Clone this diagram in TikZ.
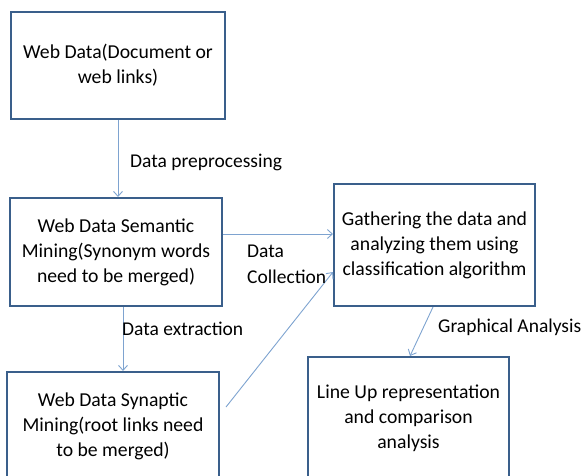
\documentclass[tikz,border=0pt]{standalone}
\usepackage{fontspec}
\setmainfont{Carlito}
\usetikzlibrary{arrows.meta}
\definecolor{boxblue}{HTML}{3A5F8B}
\definecolor{arrblue}{HTML}{7EA3D0}
\begin{document}
\begin{tikzpicture}[x=1pt,y=1pt,
  box/.style={draw=boxblue,line width=2pt,fill=white,align=center,inner sep=0pt,
    font=\fontsize{19.7}{25}\selectfont},
  arr/.style={draw=arrblue,line width=0.9pt,-{Straight Barb[length=5pt,width=9pt]}},
  lbl/.style={font=\fontsize{19.5}{26}\selectfont,inner sep=0pt,anchor=west,align=left}]
\useasboundingbox (0,0) rectangle (584,-475);
\node[box,minimum width=214,minimum height=107] (b1) at (118,-65.5) {Web Data(Document or\\web links)};
\node[box,minimum width=212,minimum height=108] (b2) at (116,-252) {Web Data Semantic\\Mining(Synonym words\\need to be merged)};
\node[box,minimum width=212,minimum height=108] (b3) at (113,-426) {Web Data Synaptic\\Mining(root links need\\to be merged)};
\node[box,minimum width=201,minimum height=122] (b4) at (434.5,-245) {Gathering the data and\\analyzing them using\\classification algorithm};
\node[box,minimum width=201,minimum height=122] (b5) at (408.5,-418) {Line Up representation\\and comparison\\analysis};
\draw[arr] (b1.south) -- (b1.south |- b2.north);
\draw[arr] (b2.south -| 123,0) -- (b3.north -| 123,0);
\draw[arr] (b2.east |- 0,-234) -- (b4.west |- 0,-234);
\draw[arr] ([xshift=6pt]b3.east |- 0,-407) -- (b4.west |- 0,-272);
\draw[arr] (b4.south -| 433,0) -- (b5.north -| 410,0);
\node[lbl] (l1) at (130,-162) {Data preprocessing};
\node[lbl] (l2) at (247,-264) {Data\\Collection};
\node[lbl] (l3) at (122,-329) {Data extraction};
\node[lbl] (l4) at (438,-327) {Graphical Analysis};
\end{tikzpicture}
\end{document}
